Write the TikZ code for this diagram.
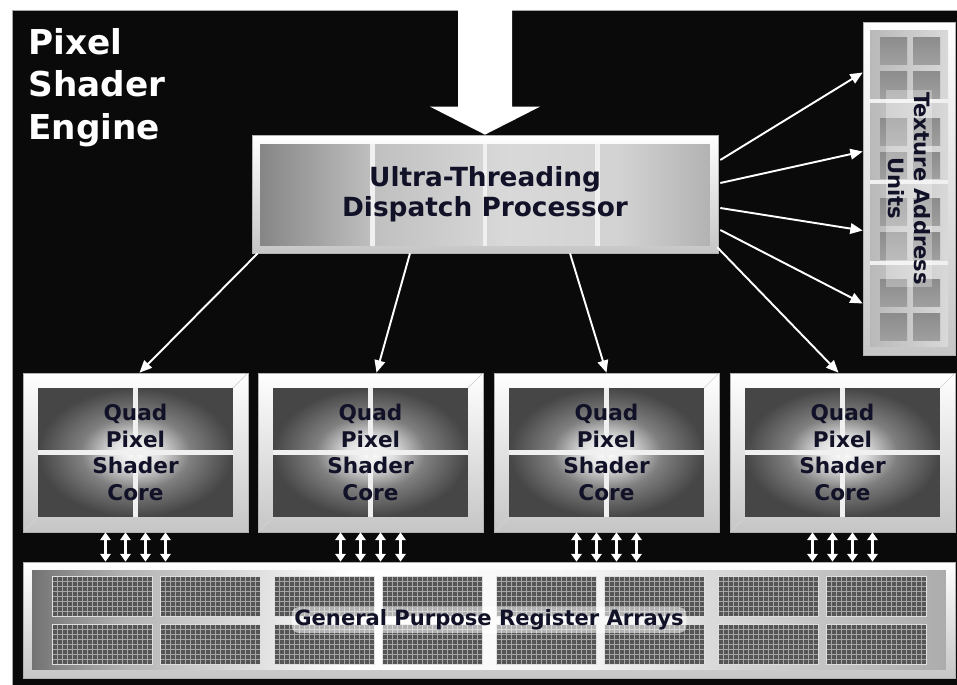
\documentclass[tikz,border=0pt]{standalone}
\usepackage{fontspec}
\setmainfont{DejaVu Sans}
\usepackage{tikz}
\usetikzlibrary{arrows.meta, positioning, calc, shapes.geometric}

\definecolor{ink}{HTML}{111128}
\definecolor{bgblack}{HTML}{0A0A0A}
\definecolor{coredark}{HTML}{464646}
\definecolor{regcell}{HTML}{555555}

\pgfdeclareradialshading{coreglow}{\pgfpoint{0bp}{0bp}}{%
  color(0bp)=(white); color(6bp)=(white!75!gray); color(14bp)=(gray);
  color(25bp)=(coredark); color(50bp)=(coredark)}
\pgfdeclarehorizontalshading{regglow}{100bp}{%
  color(0bp)=(black!55); color(25bp)=(black!55); color(30bp)=(gray!60);
  color(42.5bp)=(white); color(55bp)=(white!92!gray); color(67.5bp)=(gray!45);
  color(75bp)=(gray!65); color(100bp)=(gray!65)}
\pgfdeclarehorizontalshading{dispglow}{100bp}{%
  color(0bp)=(gray!95); color(25bp)=(gray!95); color(37.5bp)=(gray!50);
  color(52.5bp)=(gray!30); color(65bp)=(gray!35); color(75bp)=(gray!60);
  color(100bp)=(gray!60)}

\begin{document}
\begin{tikzpicture}[
        x=0.02cm, y=-0.02cm,
        frame/.style={
            rectangle,
            draw=gray!60,
            top color=white,
            bottom color=gray!45,
            inner sep=0pt
        },
        divider/.style={
            draw=gray!12,
            line width=2.6pt
        },
        bevel/.style={
            draw=gray!35,
            line width=0.4pt
        },
        corebox/.style={
            frame,
            minimum width=4.5cm,
            minimum height=3.18cm,
            align=center,
            text=ink,
            font=\fontsize{12.3}{15.3}\selectfont\bfseries,
            path picture={
                \coordinate (psw) at ($(path picture bounding box.south west)+(0.3cm,0.3cm)$);
                \coordinate (pne) at ($(path picture bounding box.north east)+(-0.3cm,-0.3cm)$);
                \draw[bevel] (path picture bounding box.south west) -- (psw);
                \draw[bevel] (path picture bounding box.north east) -- (pne);
                \shade[shading=coreglow] (psw) rectangle (pne);
                \draw[divider] ($(psw)!0.5!(pne |- psw)$) -- ($(pne)!0.5!(psw |- pne)$);
                \draw[divider] ($(psw)!0.5!(psw |- pne)$) -- ($(pne)!0.5!(pne |- psw)$);
            }
        },
        dispbox/.style={
            frame,
            minimum width=9.32cm,
            minimum height=2.36cm,
            align=center,
            text=ink,
            font=\fontsize{15}{17}\selectfont\bfseries,
            path picture={
                \coordinate (psw) at ($(path picture bounding box.south west)+(0.16cm,0.14cm)$);
                \coordinate (pne) at ($(path picture bounding box.north east)+(-0.16cm,-0.18cm)$);
                \shade[shading=dispglow] (psw) rectangle (pne);
                \foreach \f in {0.25,0.5,0.75}
                    \draw[divider] ($(psw)!\f!(pne |- psw)$) -- ($(psw |- pne)!\f!(pne)$);
            }
        },
        texbox/.style={
            frame,
            minimum width=1.84cm,
            minimum height=6.66cm,
            path picture={
                \coordinate (pnw) at ($(path picture bounding box.north west)+(0.14cm,-0.16cm)$);
                \coordinate (pse) at ($(path picture bounding box.south east)+(-0.14cm,0.16cm)$);
                \shade[left color=gray!55, right color=gray!30] (pnw) rectangle (pse);
                \foreach \g in {0,1,2}
                    \draw[divider] ($(pnw)+(0,-1.42cm-1.62*\g cm)$) -- ($(pse |- pnw)+(0,-1.42cm-1.62*\g cm)$);
                \foreach \g in {0,...,3}
                    \foreach \r in {0,1}
                        \foreach \c in {0,1}
                            \shade[top color=gray!110!black, bottom color=gray!75]
                                ($(path picture bounding box.north west)+(0.34cm+0.66*\c cm,-0.3cm-1.62*\g cm-0.68*\r cm)$)
                                rectangle +(0.54cm,-0.54cm);
            }
        },
        regbox/.style={
            frame,
            minimum width=18.64cm,
            minimum height=2.32cm,
            path picture={
                \coordinate (pnw) at ($(path picture bounding box.north west)+(0.18cm,-0.16cm)$);
                \coordinate (pse) at ($(path picture bounding box.south east)+(-0.18cm,0.16cm)$);
                \shade[shading=regglow] (pnw) rectangle (pse);
            }
        },
        regline/.style={
            draw=gray!70,
            line width=0.35pt
        },
        title/.style={
            anchor=north west,
            inner sep=0pt,
            align=left,
            text=white,
            font=\fontsize{19.5}{24.2}\selectfont\bfseries
        },
        texlabel/.style={
            align=center,
            text=ink,
            inner sep=1pt,
            fill=white,
            fill opacity=0.3,
            text opacity=1,
            font=\fontsize{12}{14.7}\selectfont\bfseries
        },
        reglabel/.style={
            text=ink,
            inner sep=1.5pt,
            fill=white,
            fill opacity=0.55,
            text opacity=1,
            rounded corners=4pt,
            font=\fontsize{12}{14}\selectfont\bfseries
        },
        flow/.style={
            draw=white,
            line width=1.1pt,
            -{Triangle[length=7pt,width=6pt]}
        },
        dbl/.style={
            draw=white,
            line width=1.2pt,
            {Triangle[length=4.5pt,width=6pt]}-{Triangle[length=4.5pt,width=6pt]}
        }
    ]

    \useasboundingbox (0,0) rectangle (957,685);
    \fill[bgblack, draw=gray!70] (12,10) rectangle (957,685);

    \node[title] (engine) at (28,28) {Pixel\\Shader\\Engine};

    % incoming work
    \coordinate (intop) at (485,0);
    \node[dispbox] (disp) at (485,194) {Ultra-Threading\\Dispatch Processor};
    \fill[white] ($(intop)+(-27,0)$) -- ($(intop)+(27,0)$) -- ($(disp.north)+(27,-28)$)
        -- ($(disp.north)+(55,-28)$) -- (disp.north) -- ($(disp.north)+(-55,-28)$)
        -- ($(disp.north)+(-27,-28)$) -- cycle;

    \node[texbox] (tex) at (909,188.5) {};
    \node[texlabel, rotate=-90] (texname) at (tex.center) {Texture Address\\Units};

    \node[corebox] (q1) at (135.5,452.5) {Quad\\Pixel\\Shader\\Core};
    \node[corebox] (q2) at (370.5,452.5) {Quad\\Pixel\\Shader\\Core};
    \node[corebox] (q3) at (606.5,452.5) {Quad\\Pixel\\Shader\\Core};
    \node[corebox] (q4) at (842.5,452.5) {Quad\\Pixel\\Shader\\Core};

    \node[regbox] (gpr) at (489,620) {};
    % register blocks
    \foreach \g in {0,...,3}
        \foreach \c in {0,1}
            \foreach \r in {0,1} {
                \coordinate (blk) at ($(gpr.north west)+(30+222*\g+108*\c,15+48*\r)$);
                \fill[regcell] (blk) rectangle ++(100,40);
                \foreach \i in {1,...,19}
                    \draw[regline] ($(blk)+(5*\i,0)$) -- ++(0,40);
                \foreach \j in {1,...,7}
                    \draw[regline] ($(blk)+(0,5*\j)$) -- ++(100,0);
                \draw[gray!25, line width=0.6pt] (blk) rectangle ++(100,40);
            }
    \node[reglabel] (gprname) at (gpr.center) {General Purpose Register Arrays};

    % dispatch to the texture units
    \foreach \a/\b in {-34/-116, -11/-37, 14/42, 36/115}
        \draw[flow] ($(disp.east)+(2,\a)$) -- ($(tex.west)+(0,\b)$);

    % dispatch to the cores
    \draw[flow] ($(disp.south west)+(6,0)$) -- ($(q1.north)+(4,0)$);
    \draw[flow] ($(disp.south)+(-75,0)$) -- ($(q2.north)+(6,0)$);
    \draw[flow] ($(disp.south)+(85,0)$) -- (q3.north);
    \draw[flow] ($(disp.south east)+(-1,-6)$) -- ($(q4.north)+(-4,0)$);

    % cores to registers
    \foreach \q in {q1,q2,q3,q4}
        \foreach \dx in {-30,-10,10,30} {
            \coordinate (s) at ($(\q.south)+(\dx,0)$);
            \draw[dbl] (s) -- (s |- gpr.north);
        }

\end{tikzpicture}
\end{document}
